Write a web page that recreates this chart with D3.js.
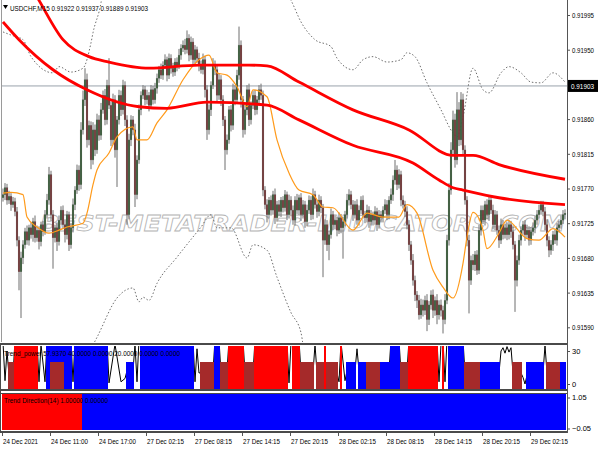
<!DOCTYPE html>
<html><head><meta charset="utf-8">
<script src="https://cdn.jsdelivr.net/npm/d3@7"></script>
<style>html,body{margin:0;padding:0;background:#fff;}svg{display:block;font-family:"Liberation Sans",Arial,sans-serif;}</style>
</head><body>
<svg id="chart" width="600" height="450"></svg>
<script>
// ---------- DATA (prices in points: price = 0.91 + pts/100000) ----------
const symbolHeader = "USDCHF,M15  0.91922 0.91937 0.91889 0.91903";
const bidPrice = 0.91903;
const firstOpenPts = 758;
const closePts = [
762,771,755,760,749,753,740,703,662,680,
697,714,703,719,710,727,706,716,701,723,
714,736,755,788,736,706,719,701,729,742,
723,710,736,697,719,749,768,794,775,846,
885,911,833,852,807,846,820,859,839,872,
891,859,904,878,833,885,820,859,891,872,
904,859,736,833,859,846,762,807,872,891,
898,885,891,878,898,885,900,913,924,917,
930,937,917,939,926,921,934,929,943,952,
956,950,965,943,960,937,950,939,930,924,
937,898,846,872,904,930,924,891,911,885,
859,820,833,872,852,898,885,917,956,885,
846,872,898,859,878,891,872,885,898,891,
768,749,736,755,742,762,732,749,740,755,
745,762,736,755,742,729,755,742,758,736,
749,727,742,755,736,762,749,740,755,745,
703,723,697,710,736,723,729,716,732,719,
727,736,755,762,749,736,749,729,742,755,
736,732,742,727,736,729,740,723,736,732,
742,749,736,755,762,781,794,775,788,755,
749,740,723,697,677,651,632,625,606,619,
612,625,600,619,632,612,625,606,619,612,
600,625,703,768,820,859,807,872,833,885,
820,755,703,651,677,671,684,664,716,742,
729,749,736,755,742,723,736,716,703,723,
710,719,710,723,714,697,651,677,703,716,
723,710,716,703,714,719,729,736,742,749,
740,723,703,690,697,710,703,719,723,729,
736,738];
const upperWick = [
8,6,5,7,4,6,5,6,5,8, 6,5,8,4,7,5,8,6,5,4, 5,6,8,10,5,6,4,7,6,5, 6,7,5,4,6,8,5,7,6,10,
12,15,8,6,5,10,7,8,6,9, 6,8,7,35,5,8,6,5,7,6, 7,5,6,8,6,5,8,6,7,5, 6,5,7,4,6,5,7,6,5,8,
5,7,4,6,5,7,5,6,8,5, 6,8,10,5,7,5,6,4,7,6, 8,5,6,7,5,9,6,5,8,6, 6,5,7,5,6,8,6,7,24,6,
5,7,6,8,5,6,7,5,6,8, 6,5,7,4,6,5,8,5,6,4, 5,6,4,7,5,6,5,8,4,6, 6,5,7,6,5,8,5,6,7,5,
5,7,6,5,8,5,6,4,7,5, 6,5,8,7,5,6,5,7,6,5, 6,5,7,5,6,4,7,5,6,5, 5,7,6,5,8,6,13,6,7,5,
6,5,7,6,5,8,6,5,7,8, 7,6,8,5,6,7,5,8,6,7, 6,8,7,9,10,12,8,23,10,10, 8,6,5,7,6,8,5,6,7,6,
6,5,7,6,5,7,6,5,6,8, 6,5,7,6,5,8,5,6,7,5, 5,6,7,5,6,7,5,6,7,5, 5,6,7,5,6,5,7,6,5,6,
6,5];
const lowerWick = [
5,7,6,5,8,4,6,8,24,60, 8,5,6,7,5,9,6,5,10,6, 6,4,5,6,8,40,6,12,5,6, 5,10,6,8,5,6,7,5,8,6,
6,8,10,7,12,6,8,5,7,6, 5,7,6,5,8,6,10,48,6,8, 6,8,13,6,8,7,16,6,5,7, 5,7,6,8,5,6,5,7,6,5,
6,5,8,5,7,6,5,7,4,6, 5,6,5,8,6,7,5,6,8,5, 6,10,13,6,8,5,7,9,6,8, 8,26,6,5,8,6,7,5,6,10,
10,6,7,8,6,5,7,6,5,6, 8,6,10,5,7,6,8,5,6,7, 6,5,7,5,8,6,7,5,6,8, 5,8,6,5,7,6,5,8,6,7,
48,6,8,20,5,7,6,8,5,7, 40,6,5,7,6,8,5,6,7,5, 5,7,6,8,5,7,6,8,5,6, 6,5,7,6,5,8,6,7,5,8,
5,7,6,8,6,7,8,10,6,5, 8,6,15,7,6,10,7,12,6,8, 18,6,5,7,6,8,10,6,8,7, 7,6,8,43,6,7,8,6,5,7,
5,7,6,8,5,6,7,6,10,5, 6,5,7,6,8,6,41,8,6,7, 6,8,5,7,6,5,7,6,5,6, 6,7,8,9,6,8,5,7,6,5,
5,6];
// moving averages: [bar index, pts]
const maSlow = [[0,1097],[18,1014],[30,963],[43,941],[53,934],[73,926],[98,930],[123,930],[132,929],[148,908],[175,872],[203,846],[225,813],[235,813],[248,801],[281,782]];
const maMid = [[0,986],[8,963],[25,924],[42,898],[68,876],[82,874],[102,882],[132,878],[148,859],[175,826],[205,803],[218,781],[225,771],[230,768],[248,758],[281,749]];
const maFast = [[0,764],[4,765],[10,762],[12,733],[17,720],[23,712],[28,716],[32,720],[40,725],[42,738],[45,775],[47,794],[53,816],[57,837],[65,850],[67,833],[72,833],[77,855],[82,872],[90,911],[98,937],[103,943],[107,920],[112,917],[117,902],[122,876],[125,898],[132,889],[137,833],[143,790],[148,768],[155,762],[160,746],[165,745],[175,716],[182,738],[190,733],[198,733],[202,749],[207,738],[215,664],[220,642],[225,628],[230,673],[232,707],[235,739],[240,716],[242,692],[248,712],[252,729],[262,705],[268,703],[275,718],[281,707]];
const bandUpper = [[0,973],[4,969],[10,963],[14,941],[25,920],[28,928],[34,921],[40,926],[44,959],[45,972],[49,1011],[50,1027],[100,null],[141,1027],[144,1014],[149,986],[156,963],[164,954],[167,939],[175,924],[180,937],[185,941],[192,934],[199,937],[202,946],[206,941],[212,907],[219,872],[225,842],[227,837],[230,863],[235,926],[240,898],[243,894],[249,920],[253,928],[259,920],[264,908],[269,907],[275,920],[281,908]];
const bandLower = [[45,567],[47,577],[57,628],[65,641],[68,623],[70,629],[73,625],[77,647],[87,681],[99,720],[104,736],[107,719],[114,719],[122,680],[125,697],[132,690],[137,655],[144,609],[149,583],[150,567]];
const priceTicks = [0.91995,0.91950,0.91860,0.91815,0.91770,0.91725,0.91680,0.91635,0.91590];
const timeTickBars = [0,24,48,72,96,120,144,168,192,216,240,264];
const timeLabels = ["24 Dec 2021","24 Dec 11:00","24 Dec 17:00","27 Dec 02:15","27 Dec 08:15","27 Dec 14:15","27 Dec 20:15","28 Dec 02:15","28 Dec 08:15","28 Dec 14:15","28 Dec 20:15","29 Dec 02:15"];
// Trend_power sub-window
const powerHeader = "Trend_power 57.9370 40.0000 0.0000 20.0000 0.0000 0.0000";
const powerTicks = [30, 0];
const powerFullRuns = [[6,17,"red"],[22,34,"blue"],[36,52,"blue"],[69,95,"blue"],[106,108,"blue"],[113,120,"red"],[126,142,"red"],[145,148,"red"],[161,161,"red"],[169,169,"red"],[194,198,"blue"],[203,217,"red"],[220,220,"red"],[223,230,"blue"]];
const powerHalfRuns = [[3,5,"brown"],[24,30,"brown"],[62,65,"blue"],[99,105,"brown"],[109,112,"brown"],[121,125,"brown"],[149,155,"brown"],[157,160,"brown"],[162,167,"brown"],[172,176,"blue"],[178,181,"blue"],[182,188,"brown"],[189,193,"blue"],[199,202,"brown"],[231,238,"brown"],[239,248,"blue"],[255,259,"brown"],[262,270,"blue"],[272,278,"brown"],[279,281,"blue"]];
const powerFullValue = 40, powerHalfValue = 20;
const powerLine = [[0,38],[1,3],[2,30],[3,8],[5,8],[6,40],[17,40],[18,2],[19,36],[21,2],[22,40],[34,40],[35,2],[36,40],[52,40],[53,1],[56,36],[59,2],[61,5],[62,12],[65,12],[66,36],[67,2],[68,40],[95,40],[96,2],[97,32],[98,10],[105,12],[106,40],[108,40],[109,10],[112,12],[113,40],[120,40],[121,10],[125,10],[126,40],[142,40],[143,1],[144,38],[145,40],[148,40],[149,10],[155,10],[156,36],[157,10],[167,10],[168,2],[169,38],[171,3],[172,12],[176,12],[177,32],[178,12],[193,12],[194,40],[198,40],[199,10],[202,12],[203,40],[217,40],[218,2],[219,36],[220,40],[221,2],[222,40],[230,40],[231,10],[248,10],[249,30],[250,33],[251,28],[252,34],[253,29],[254,33],[255,10],[259,10],[260,6],[261,0],[262,8],[270,10],[271,35],[272,10],[278,10],[279,12],[281,12]];
// Trend Direction sub-window
const dirHeader = "Trend Direction(14) 1.00000 0.00000";
const dirTicks = [1.05, -0.05];
const dirRuns = [[0,39,"red"],[40,281,"blue"]];
const watermark = "BEST-METATRADER-INDICATORS.COM";

// ---------- LAYOUT ----------
const colors = {red:"#ff0000", blue:"#0000ff", brown:"#a52a2a"};
const N = closePts.length;
const plotL = 2, axisX = 567;
const mainTop = 0, mainBot = 342;
const p1Top = 345, p1Bot = 389;
const p2Top = 394, p2Bot = 430;
const toPrice = v => 0.91 + v / 100000;

const svg = d3.select("#chart");
const x = d3.scaleBand().domain(d3.range(N)).range([plotL, plotL + 2 * N]).padding(0);
const cx = i => x(i) + x.bandwidth() / 2;
const y = d3.scaleLinear().domain([0.91590, 0.91995]).range([327.3, 15]);
const yP = d3.scaleLinear().domain([0, 30]).range([384, 351]);
const yD = d3.scaleLinear().domain([-0.05, 1.05]).range([428.5, 397.5]);

const defs = svg.append("defs");
defs.append("clipPath").attr("id","mainClip").append("rect").attr("x",plotL).attr("y",mainTop).attr("width",axisX-plotL).attr("height",mainBot-mainTop);
defs.append("clipPath").attr("id","p1Clip").append("rect").attr("x",plotL).attr("y",p1Top+1).attr("width",axisX-plotL).attr("height",p1Bot-p1Top-1);

// ---------- MAIN WINDOW ----------
const main = svg.append("g").attr("clip-path","url(#mainClip)");
main.append("text").attr("x",40).attr("y",231).text(watermark)
  .attr("font-family","DejaVu Sans").attr("font-style","italic").attr("font-weight","bold")
  .attr("font-size",22).attr("textLength",525).attr("lengthAdjust","spacingAndGlyphs")
  .attr("fill","none").attr("stroke","#b4b4b4").attr("stroke-width",0.8);

main.append("line").attr("x1",plotL).attr("x2",axisX).attr("y1",y(bidPrice)).attr("y2",y(bidPrice))
  .attr("stroke","#9aa3ab").attr("stroke-width",1);

const lineGen = d3.line().defined(d => d[1] != null).x(d => cx(d[0])).y(d => y(toPrice(d[1]))).curve(d3.curveMonotoneX);
[bandUpper, bandLower].forEach(b => main.append("path").attr("d", lineGen(b)).attr("fill","none")
  .attr("stroke","#6e6e6e").attr("stroke-width",1).attr("stroke-dasharray","1.5,2"));

const candles = closePts.map((c, i) => {
  const o = i ? closePts[i-1] : firstOpenPts;
  return {i, o: toPrice(o), c: toPrice(c), h: toPrice(Math.max(o,c) + upperWick[i]), l: toPrice(Math.min(o,c) - lowerWick[i])};
});
const cg = main.append("g");
cg.selectAll("line").data(candles).join("line")
  .attr("x1", d => cx(d.i)).attr("x2", d => cx(d.i)).attr("y1", d => y(d.h)).attr("y2", d => y(d.l))
  .attr("stroke","#6f6f6f").attr("stroke-width",1);
cg.selectAll("rect").data(candles).join("rect")
  .attr("x", d => cx(d.i) - 0.9).attr("width", 1.8)
  .attr("y", d => y(Math.max(d.o, d.c))).attr("height", d => Math.max(1, Math.abs(y(d.o) - y(d.c))))
  .attr("fill", d => d.c >= d.o ? "#2a552a" : "#702626")
  .attr("stroke","#6f6f6f").attr("stroke-width",0.3);

main.append("path").attr("d", lineGen(maFast)).attr("fill","none").attr("stroke","#ff9a1a").attr("stroke-width",1.2);
[maSlow, maMid].forEach(m => main.append("path").attr("d", lineGen(m)).attr("fill","none").attr("stroke","#ff0000").attr("stroke-width",2.8));

// header
svg.append("path").attr("d","M3,5 L8,5 L5.5,9 Z").attr("fill","#000");
svg.append("text").attr("x",10).attr("y",11).text(symbolHeader).attr("font-size",7.5)
  .attr("textLength",138).attr("lengthAdjust","spacingAndGlyphs").attr("fill","#000");

// ---------- TREND POWER WINDOW ----------
const p1 = svg.append("g").attr("clip-path","url(#p1Clip)");
const pLine = d3.line().x(d => cx(d[0])).y(d => yP(d[1]));
p1.append("path").attr("d", pLine(powerLine)).attr("fill","none").attr("stroke","#000").attr("stroke-width",1);
function drawRuns(g, runs, value) {
  runs.forEach(r => {
    const bars = d3.range(r[0], r[1] + 1);
    g.selectAll(null).data(bars).join("rect")
      .attr("x", i => x(i)).attr("width", x.bandwidth())
      .attr("y", yP(value)).attr("height", p1Bot - yP(value))
      .attr("fill", colors[r[2]]).attr("shape-rendering","crispEdges");
  });
}
drawRuns(p1, powerFullRuns, powerFullValue);
drawRuns(p1, powerHalfRuns, powerHalfValue);
svg.append("text").attr("x",4).attr("y",356).text(powerHeader).attr("font-size",7.5)
  .attr("textLength",176).attr("lengthAdjust","spacingAndGlyphs").attr("fill","#000");

// ---------- TREND DIRECTION WINDOW ----------
const p2 = svg.append("g");
dirRuns.forEach(r => {
  p2.selectAll(null).data(d3.range(r[0], r[1] + 1)).join("rect")
    .attr("x", i => x(i)).attr("width", x.bandwidth())
    .attr("y", p2Top).attr("height", p2Bot - p2Top)
    .attr("fill", colors[r[2]]).attr("shape-rendering","crispEdges");
});
svg.append("text").attr("x",4).attr("y",403).text(dirHeader).attr("font-size",7.5)
  .attr("textLength",104).attr("lengthAdjust","spacingAndGlyphs").attr("fill","#000");

// ---------- FRAMES ----------
const fr = svg.append("g").attr("stroke","#4a4a4a").attr("shape-rendering","crispEdges");
fr.append("line").attr("x1",1.5).attr("x2",1.5).attr("y1",0).attr("y2",mainBot).attr("stroke","#9a9a9a");
[[344,2],[390,2],[393,1],[432,2]].forEach(([yy,w]) => fr.append("line").attr("x1",0).attr("x2",axisX).attr("y1",yy).attr("y2",yy).attr("stroke-width",w));
fr.append("line").attr("x1",0.5).attr("x2",0.5).attr("y1",344).attr("y2",432);
fr.append("line").attr("x1",axisX+0.5).attr("x2",axisX+0.5).attr("y1",0).attr("y2",433).attr("stroke","#555");

// ---------- AXES ----------
const styleAxis = (g) => {
  g.select(".domain").remove();
  g.selectAll(".tick line").attr("stroke","#555");
  g.selectAll("text").attr("font-size",7.5).attr("fill","#000").attr("font-family","Liberation Sans, Arial, sans-serif");
};
const pa = svg.append("g").attr("transform",`translate(${axisX},0)`)
  .call(d3.axisRight(y).tickValues(priceTicks).tickSize(3).tickPadding(2).tickFormat(d3.format(".5f")));
styleAxis(pa); pa.selectAll("text").attr("textLength",22).attr("lengthAdjust","spacingAndGlyphs");
// bid label
svg.append("rect").attr("x",axisX+1).attr("y",y(bidPrice)-6).attr("width",30).attr("height",12).attr("fill","#000");
svg.append("text").attr("x",axisX+4).attr("y",y(bidPrice)+3).text(d3.format(".5f")(bidPrice))
  .attr("font-size",7.5).attr("fill","#fff").attr("textLength",23).attr("lengthAdjust","spacingAndGlyphs");

const ppa = svg.append("g").attr("transform",`translate(${axisX},0)`)
  .call(d3.axisRight(yP).tickValues(powerTicks).tickSize(3).tickPadding(2).tickFormat(d3.format("d")));
styleAxis(ppa);
const pda = svg.append("g").attr("transform",`translate(${axisX},0)`)
  .call(d3.axisRight(yD).tickValues(dirTicks).tickSize(3).tickPadding(2).tickFormat(d3.format(".2f")));
styleAxis(pda);

const ta = svg.append("g").attr("transform",`translate(0,433)`)
  .call(d3.axisBottom(x).tickValues(timeTickBars).tickSize(3).tickPadding(3).tickFormat((d,k) => timeLabels[k]));
styleAxis(ta);
ta.selectAll(".tick").attr("transform", d => `translate(${x(d)+0.5},0)`);
ta.selectAll("text").attr("text-anchor","start").attr("x",0.5).attr("dy","0.71em")
  .attr("textLength",(d,k) => k === 0 ? 35 : 37).attr("lengthAdjust","spacingAndGlyphs");
</script></body></html>
